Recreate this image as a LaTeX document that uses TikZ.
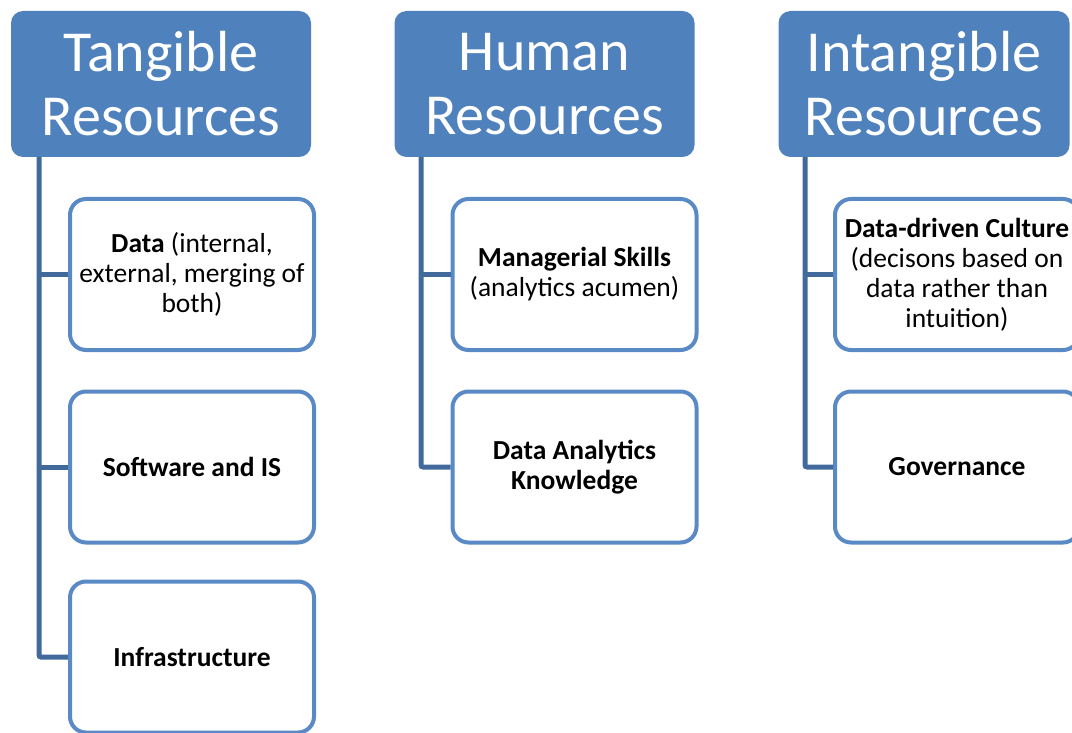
\documentclass[tikz,border=0pt]{standalone}
\usepackage{fontspec}
\setmainfont{Carlito}
\usetikzlibrary{positioning}

\definecolor{headBlue}{HTML}{4F81BD}
\definecolor{itemBlue}{HTML}{5A8AC6}
\definecolor{lineBlue}{HTML}{41699C}

\tikzset{
  headbox/.style={fill=headBlue, rounded corners=12pt, text=white, align=center,
    font=\fontsize{58}{64}\selectfont, minimum height=146pt, inner sep=0pt},
  itembox/.style={draw=itemBlue, line width=4pt, fill=white, rounded corners=16pt,
    align=center, font=\fontsize{27.5}{30}\selectfont, minimum width=244pt,
    minimum height=151pt, inner sep=0pt},
  branch/.style={draw=lineBlue, line width=5pt, rounded corners=2pt}
}

\begin{document}
\begin{tikzpicture}[x=1pt,y=-1pt]
		\useasboundingbox (0,0) rectangle (1072,733);
		\clip (0,0) rectangle (1072,733);
		
		% column heads
		\node[headbox, minimum width=300pt] (tang) at (161,84) {Tangible\\Resources};
		\node[headbox, minimum width=300pt] (human) at (544.5,84) {Human\\Resources};
		\node[headbox, minimum width=291pt] (intang) at (924,84) {Intangible\\Resources};
		
		% roots of the branch lines
		\coordinate (tangroot) at (39,157);
		\coordinate (humanroot) at (421,157);
		\coordinate (intangroot) at (805,157);
		
		% tangible resources
		\node[itembox] (data) at (192,274.5) {\textbf{Data} (internal,\\external, merging of\\both)};
		\node[itembox] (soft) at (192,467) {\textbf{Software and IS}};
		\node[itembox] (infra) at (192,657) {\textbf{Infrastructure}};
		
		% human resources
		\node[itembox] (skills) at (574.5,274.5) {\textbf{Managerial Skills}\\(analytics acumen)};
		\node[itembox] (know) at (574.5,467) {\textbf{Data Analytics}\\\textbf{Knowledge}};
		
		% intangible resources (cut off at the right edge)
		\node[itembox] (culture) at (957,274.5) {\textbf{Data-driven Culture}\\(decisons based on\\data rather than\\intuition)};
		\node[itembox] (gov) at (957,467) {\textbf{Governance}};
		
		% branch lines
		\draw[branch] (tangroot) |- (infra.west);
		\draw[branch] (tangroot |- data.west) -- (data.west);
		\draw[branch] (tangroot |- soft.west) -- (soft.west);
		\draw[branch] (humanroot) |- (know.west);
		\draw[branch] (humanroot |- skills.west) -- (skills.west);
		\draw[branch] (intangroot) |- (gov.west);
		\draw[branch] (intangroot |- culture.west) -- (culture.west);
\end{tikzpicture}
\end{document}
